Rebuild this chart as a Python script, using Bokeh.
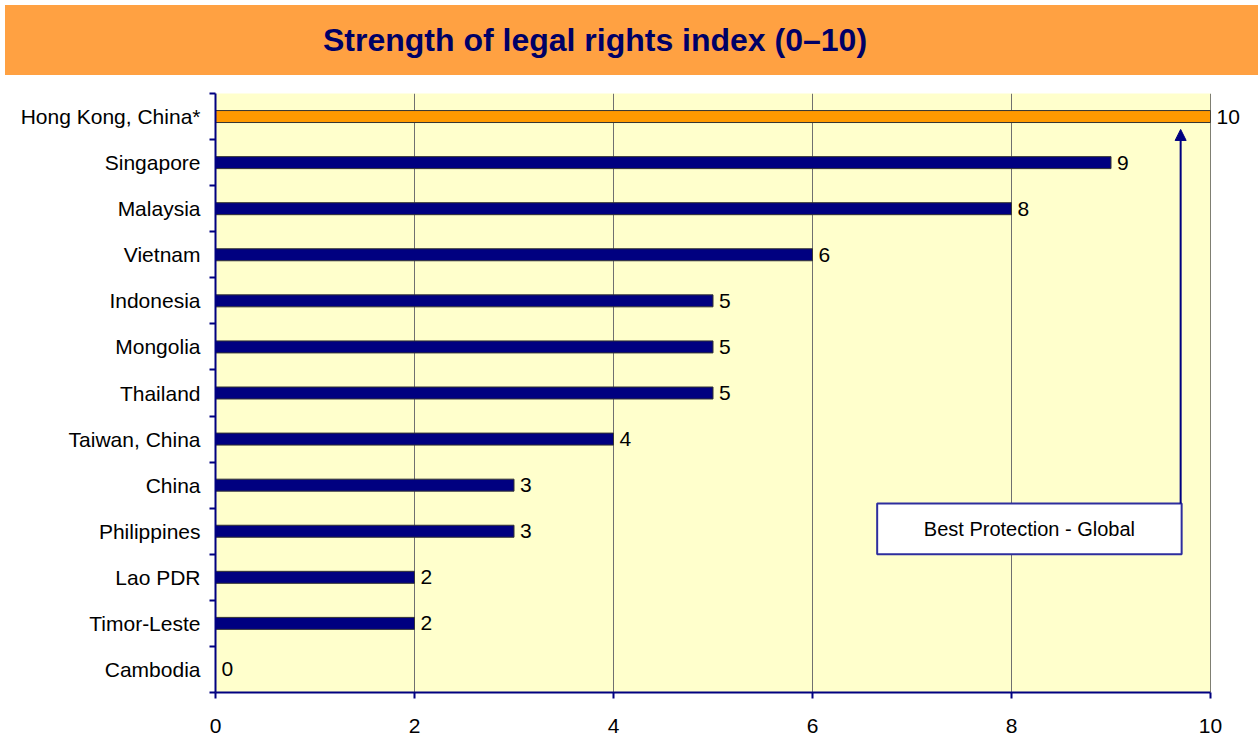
from bokeh.plotting import figure
from bokeh.models import (ColumnDataSource, FixedTicker, LabelSet, Label, Arrow,
                          NormalHead, Span, BoxAnnotation, Range1d, Div, LinearAxis)
from bokeh.layouts import column
from bokeh.core.properties import value
from bokeh.embed import file_html
from bokeh.resources import INLINE

# ---- data ----
countries = ["Hong Kong, China*", "Singapore", "Malaysia", "Vietnam", "Indonesia",
             "Mongolia", "Thailand", "Taiwan, China", "China", "Philippines",
             "Lao PDR", "Timor-Leste", "Cambodia"]
scores = [10, 9, 8, 6, 5, 5, 5, 4, 3, 3, 2, 2, 0]
bar_colors = ["#FF9900"] + ["#000080"] * 12
x_ticks = [0, 2, 4, 6, 8, 10]
title_text = "Strength of legal rights index (0\u201310)"
note_text = "Best Protection - Global"

FONT = "Liberation Sans"
NAVY = "#000080"
ORANGE_BAND = "#FFA142"

n = len(countries)
ypos = [n - 0.5 - i for i in range(n)]
x_max = x_ticks[-1]

# ---- title band ----
band_html = (
    '<div style="margin:5px 0 0 5px;width:1253px;height:70px;box-sizing:border-box;'
    f'background:{ORANGE_BAND};color:#000066;font-family:\'Liberation Sans\',sans-serif;'
    'font-weight:bold;font-size:32px;line-height:70px;text-align:center;'
    f'padding-right:73px;white-space:nowrap;">{title_text}</div>'
)
band = Div(text=band_html, width=1258, height=78, margin=0)

# ---- main chart ----
inside = [i for i, s in enumerate(scores) if s < x_max]
at_edge = [i for i, s in enumerate(scores) if s >= x_max]

src = ColumnDataSource(dict(y=ypos, v=scores, c=bar_colors, name=countries))
lab_src = ColumnDataSource(dict(y=[ypos[i] for i in inside],
                                v=[scores[i] for i in inside],
                                lab=[str(scores[i]) for i in inside]))

p = figure(width=1258, height=658, x_range=Range1d(0, x_max), y_range=Range1d(0, n),
           toolbar_location=None, output_backend="svg",
           min_border_left=215, min_border_right=48, min_border_top=15,
           min_border_bottom=44)
p.background_fill_color = "#FFFFCC"
p.outline_line_color = None

p.hbar(y="y", right="v", left=0, height=0.26, fill_color="c",
       line_color="#333333", line_width=1, source=src)

# grid
p.ygrid.visible = False
p.xgrid.ticker = FixedTicker(ticks=[2, 4, 6, 8])
p.xgrid.grid_line_color = "#707070"
p.xgrid.grid_line_width = 1
p.add_layout(Span(location=x_max, dimension="height", line_color="black", line_width=1))

# x axis
p.xaxis.ticker = FixedTicker(ticks=x_ticks)
p.xaxis.axis_line_color = NAVY
p.xaxis.axis_line_width = 2
p.xaxis.major_tick_line_color = NAVY
p.xaxis.major_tick_line_width = 2
p.xaxis.major_tick_out = 6
p.xaxis.major_tick_in = 0
p.xaxis.minor_tick_line_color = None
p.xaxis.major_label_text_font = FONT
p.xaxis.major_label_text_font_size = "21px"
p.xaxis.major_label_text_color = "black"
p.xaxis.major_label_standoff = 20

# y axis
p.yaxis.ticker = FixedTicker(ticks=ypos, minor_ticks=list(range(n + 1)))
p.yaxis.major_label_overrides = {y: c for y, c in zip(ypos, countries)}
p.yaxis.axis_line_color = NAVY
p.yaxis.axis_line_width = 2
p.yaxis.major_tick_line_color = None
p.yaxis.major_tick_out = 0
p.yaxis.major_tick_in = 0
p.yaxis.minor_tick_line_color = NAVY
p.yaxis.minor_tick_line_width = 2
p.yaxis.minor_tick_out = 6
p.yaxis.minor_tick_in = 0
p.yaxis.major_label_text_font = FONT
p.yaxis.major_label_text_font_size = "21px"
p.yaxis.major_label_text_color = "black"
p.yaxis.major_label_standoff = 9

# value labels (inside the frame)
p.add_layout(LabelSet(x="v", y="y", text="lab", source=lab_src, x_offset=6,
                      text_baseline="middle", text_font=value(FONT),
                      text_font_size="21px", text_color="black"))

# value labels for bars that reach the right edge (drawn by a right-hand axis)
edge_axis = LinearAxis(ticker=FixedTicker(ticks=[ypos[i] for i in at_edge]),
                       major_label_overrides={ypos[i]: str(scores[i]) for i in at_edge},
                       axis_line_color=None, major_tick_line_color=None,
                       minor_tick_line_color=None, major_tick_out=0, major_tick_in=0,
                       major_label_standoff=6, major_label_text_font=FONT,
                       major_label_text_font_size="21px",
                       major_label_text_color="black")
p.add_layout(edge_axis, "right")

# annotation box + arrow
box_left, box_right, box_bottom, box_top = 6.65, 9.71, 3.0, 4.1
arrow_x, arrow_top = 9.70, 12.22
p.add_layout(BoxAnnotation(left=box_left, right=box_right, bottom=box_bottom,
                           top=box_top, fill_color="white", fill_alpha=1,
                           line_color="#2E2E9E", line_alpha=1, line_width=2))
p.add_layout(Label(x=(box_left + box_right) / 2, y=(box_bottom + box_top) / 2,
                   text=note_text, text_align="center", text_baseline="middle",
                   text_font=FONT, text_font_size="20px", text_color="black"))
p.add_layout(Arrow(x_start=arrow_x, y_start=box_top, x_end=arrow_x, y_end=arrow_top,
                   line_color=NAVY, line_width=2,
                   end=NormalHead(size=11, fill_color=NAVY, line_color=NAVY)))

layout = column(band, p, spacing=0)
open("out.html", "w").write(file_html(layout, INLINE))
